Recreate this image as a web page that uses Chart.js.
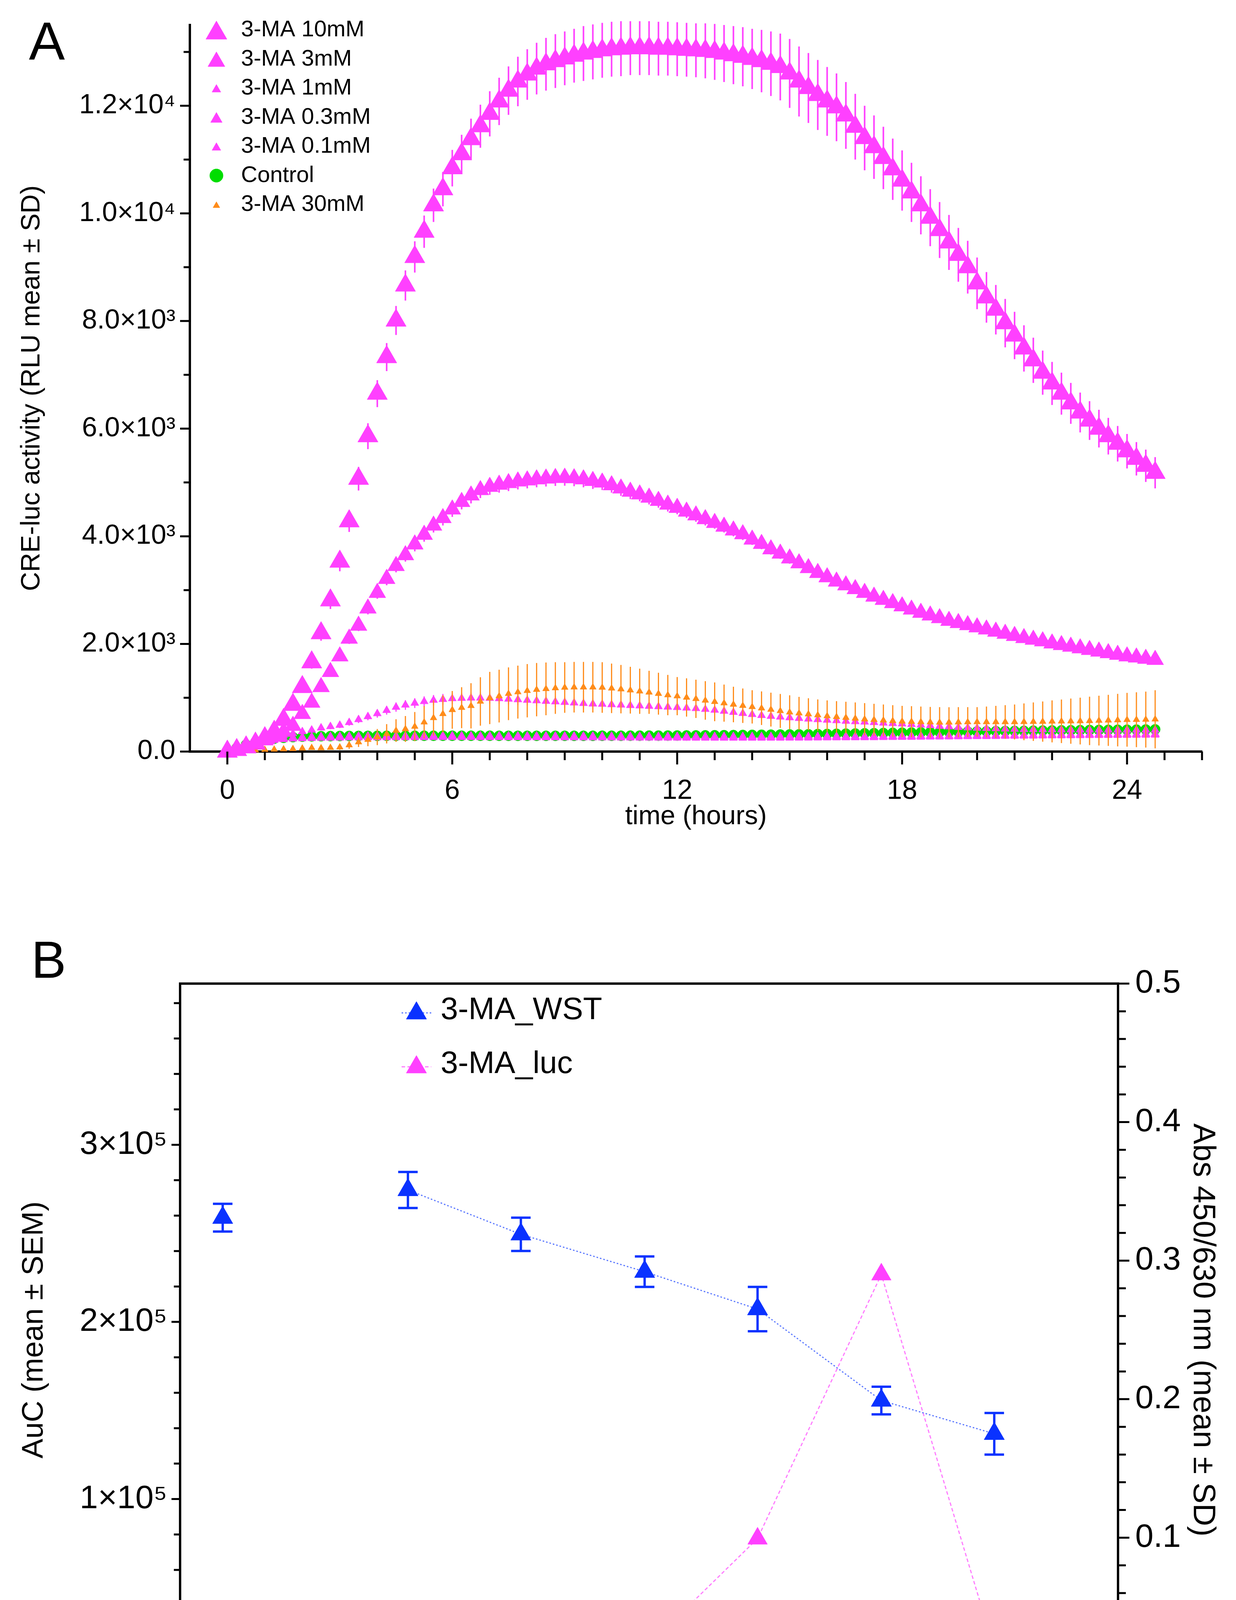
<!DOCTYPE html>
<html>
<head>
<meta charset="utf-8">
<title>3-MA CRE-luc</title>
<script src="https://cdn.jsdelivr.net/npm/chart.js@4.4.1/dist/chart.umd.min.js"></script>
<style>
  body { margin: 0; background: #fff; }
  #wrap { position: relative; width: 3164px; height: 4631px; }
  canvas { position: absolute; left: 0; }
  #chartA { top: 0; }
  #chartB { top: 2250px; }
</style>
</head>
<body>
<div id="wrap">
  <canvas id="chartA" width="3164" height="2200"></canvas>
  <canvas id="chartB" width="3164" height="2381"></canvas>
</div>
<script>
const FONT = "'Liberation Sans', Arial, sans-serif";
const PINK = "#ff40ff";
const GREEN = "#00dd00";
const ORANGE = "#ff8c1a";
const BLUE = "#0a32ff";

// ---- panel A: kinetics, one reading every 15 min ----
const timeH = [
  0, 0.25, 0.5, 0.75, 1, 1.25, 1.5, 1.75, 2, 2.25,
  2.5, 2.75, 3, 3.25, 3.5, 3.75, 4, 4.25, 4.5, 4.75,
  5, 5.25, 5.5, 5.75, 6, 6.25, 6.5, 6.75, 7, 7.25,
  7.5, 7.75, 8, 8.25, 8.5, 8.75, 9, 9.25, 9.5, 9.75,
  10, 10.25, 10.5, 10.75, 11, 11.25, 11.5, 11.75, 12, 12.25,
  12.5, 12.75, 13, 13.25, 13.5, 13.75, 14, 14.25, 14.5, 14.75,
  15, 15.25, 15.5, 15.75, 16, 16.25, 16.5, 16.75, 17, 17.25,
  17.5, 17.75, 18, 18.25, 18.5, 18.75, 19, 19.25, 19.5, 19.75,
  20, 20.25, 20.5, 20.75, 21, 21.25, 21.5, 21.75, 22, 22.25,
  22.5, 22.75, 23, 23.25, 23.5, 23.75, 24, 24.25, 24.5, 24.75
];

const ma10 = [
  0, 30, 80, 150, 250, 370, 590, 870, 1200, 1660,
  2200, 2810, 3530, 4280, 5070, 5860, 6650, 7330, 8010, 8660,
  9190, 9660, 10150, 10450, 10840, 11100, 11380, 11620, 11850, 12080,
  12280, 12450, 12580, 12690, 12770, 12830, 12880, 12930, 12970, 13000,
  13030, 13050, 13060, 13070, 13070, 13070, 13060, 13060, 13050, 13040,
  13030, 13020, 13000, 12970, 12940, 12910, 12870, 12830, 12780, 12720,
  12600, 12450, 12330, 12200, 12080, 11970, 11820, 11610, 11400, 11230,
  11030, 10820, 10610, 10390, 10150, 9920, 9690, 9460, 9230, 9000,
  8700, 8440, 8210, 7960, 7730, 7490, 7270, 7040, 6840, 6650,
  6470, 6300, 6150, 6000, 5860, 5720, 5580, 5440, 5310, 5180
];
const sd10 = [
  0, 20, 30, 40, 50, 60, 70, 80, 100, 120,
  140, 160, 180, 200, 220, 240, 250, 260, 270, 280,
  290, 300, 310, 320, 340, 360, 380, 400, 420, 440,
  450, 460, 470, 480, 490, 500, 500, 500, 510, 510,
  510, 510, 510, 500, 500, 500, 500, 500, 500, 500,
  500, 510, 520, 530, 540, 550, 560, 580, 600, 620,
  640, 650, 650, 650, 640, 630, 620, 610, 600, 590,
  580, 570, 560, 550, 540, 530, 520, 510, 500, 490,
  480, 470, 460, 450, 440, 430, 420, 410, 400, 390,
  380, 370, 360, 350, 340, 330, 320, 310, 300, 290
];

const ma3 = [
  0, 40, 90, 150, 210, 280, 370, 480, 700, 910,
  1200, 1480, 1770, 2100, 2340, 2660, 2950, 3210, 3450, 3650,
  3850, 4030, 4200, 4340, 4500, 4640, 4760, 4860, 4920, 4960,
  4990, 5020, 5040, 5060, 5075, 5085, 5090, 5080, 5060, 5030,
  5000, 4950, 4890, 4830, 4780, 4720, 4660, 4590, 4530, 4460,
  4390, 4320, 4250, 4180, 4110, 4040, 3940, 3860, 3760, 3680,
  3590, 3500, 3410, 3320, 3240, 3160, 3090, 3020, 2950, 2880,
  2820, 2760, 2700, 2640, 2580, 2530, 2480, 2430, 2390, 2350,
  2310, 2270, 2230, 2190, 2150, 2110, 2080, 2050, 2010, 1980,
  1950, 1920, 1890, 1860, 1830, 1800, 1770, 1750, 1725, 1705
];
const sd3 = [
  0, 10, 15, 20, 25, 30, 35, 40, 50, 60,
  70, 80, 90, 100, 100, 110, 110, 120, 120, 120,
  130, 130, 130, 140, 140, 140, 150, 150, 150, 150,
  150, 150, 150, 150, 150, 150, 150, 150, 150, 150,
  140, 140, 140, 140, 130, 130, 130, 130, 120, 120,
  120, 120, 110, 110, 110, 110, 100, 100, 100, 100,
  100, 90, 90, 90, 90, 90, 80, 80, 80, 80,
  80, 80, 70, 70, 70, 70, 70, 70, 60, 60,
  60, 60, 60, 60, 60, 60, 60, 50, 50, 50,
  50, 50, 50, 50, 50, 50, 50, 50, 50, 50
];

const ma1 = [
  0, 60, 120, 180, 230, 270, 300, 335, 370, 400,
  440, 465, 490, 540, 595, 650, 705, 765, 825, 865,
  900, 930, 955, 970, 985, 990, 995, 995, 990, 985,
  975, 965, 955, 945, 935, 925, 915, 905, 895, 885,
  880, 872, 865, 857, 850, 842, 835, 827, 820, 810,
  800, 785, 770, 750, 730, 710, 690, 672, 655, 642,
  630, 617, 605, 595, 585, 575, 565, 557, 550, 540,
  530, 522, 515, 505, 495, 483, 470, 460, 450, 442,
  435, 430, 425, 420, 415, 412, 410, 408, 406, 405,
  404, 403, 402, 402, 401, 401, 400, 400, 400, 400
];
const sd1 = [
  0, 10, 15, 20, 25, 30, 30, 35, 40, 40,
  45, 50, 55, 60, 65, 70, 75, 80, 85, 90,
  90, 95, 95, 100, 100, 100, 100, 100, 100, 100,
  100, 100, 100, 100, 100, 100, 100, 100, 100, 100,
  100, 100, 95, 95, 95, 95, 90, 90, 90, 90,
  90, 90, 90, 85, 85, 85, 85, 80, 80, 80,
  80, 80, 80, 80, 80, 75, 75, 75, 75, 75,
  75, 75, 75, 70, 70, 70, 70, 70, 70, 70,
  70, 70, 70, 70, 70, 70, 70, 70, 70, 70,
  70, 70, 70, 70, 70, 70, 70, 70, 70, 70
];

const ma03 = [
  0, 60, 120, 170, 205, 230, 248, 258, 265, 270,
  274, 277, 279, 281, 282, 283, 284, 285, 286, 286,
  287, 287, 288, 288, 288, 288, 287, 287, 287, 286,
  286, 285, 285, 284, 284, 283, 283, 282, 282, 281,
  281, 280, 280, 279, 279, 278, 278, 277, 277, 276,
  276, 275, 275, 275, 274, 274, 274, 274, 274, 274,
  274, 274, 275, 275, 276, 276, 277, 278, 279, 280,
  281, 282, 283, 284, 286, 287, 289, 290, 292, 294,
  296, 297, 299, 301, 303, 305, 307, 308, 310, 312,
  313, 315, 316, 318, 319, 320, 321, 322, 323, 324
];

const ma01 = [
  0, 55, 105, 150, 185, 208, 224, 234, 240, 245,
  248, 251, 253, 255, 256, 257, 258, 259, 260, 260,
  261, 261, 262, 262, 262, 262, 262, 261, 261, 261,
  260, 260, 259, 259, 258, 258, 257, 257, 256, 256,
  255, 255, 254, 254, 253, 253, 252, 252, 252, 251,
  251, 251, 250, 250, 250, 250, 250, 250, 251, 251,
  252, 252, 253, 254, 255, 256, 257, 258, 259, 260,
  262, 263, 265, 266, 268, 270, 271, 273, 275, 277,
  279, 280, 282, 284, 286, 288, 289, 291, 293, 294,
  296, 297, 299, 300, 301, 302, 303, 304, 305, 306
];

const ctrlA = [
  0, 70, 130, 180, 215, 240, 256, 268, 277, 282,
  285, 287, 289, 290, 291, 292, 292, 293, 293, 293,
  293, 294, 294, 294, 294, 294, 294, 294, 294, 293,
  293, 293, 293, 293, 293, 293, 293, 293, 293, 293,
  294, 294, 294, 295, 295, 296, 296, 297, 298, 299,
  300, 301, 303, 304, 306, 308, 310, 312, 314, 316,
  318, 320, 322, 325, 327, 330, 333, 336, 339, 342,
  345, 348, 351, 354, 357, 360, 363, 366, 369, 371,
  374, 376, 379, 381, 383, 385, 388, 390, 392, 394,
  396, 398, 400, 401, 403, 405, 406, 408, 410, 412
];

const ma30 = [
  0, 8, 15, 25, 35, 40, 45, 50, 60, 70,
  65, 72, 80, 120, 175, 220, 270, 330, 390, 420,
  465, 545, 625, 700, 775, 815, 850, 930, 995, 1030,
  1075, 1105, 1130, 1150, 1165, 1180, 1190, 1195, 1195, 1195,
  1190, 1175, 1160, 1140, 1120, 1100, 1075, 1050, 1030, 1005,
  980, 950, 925, 900, 875, 852, 830, 805, 780, 755,
  730, 712, 695, 677, 660, 645, 630, 615, 600, 590,
  580, 570, 560, 555, 550, 545, 540, 542, 545, 548,
  550, 550, 550, 550, 550, 552, 555, 557, 560, 562,
  565, 567, 570, 575, 580, 585, 590, 592, 595, 600
];
const sd30 = [
  0, 5, 8, 10, 12, 15, 18, 20, 22, 25,
  30, 35, 50, 70, 90, 120, 150, 180, 210, 240,
  270, 300, 330, 345, 350, 380, 420, 450, 485, 490,
  490, 492, 495, 495, 490, 480, 470, 470, 470, 470,
  470, 460, 450, 435, 420, 400, 390, 375, 355, 355,
  355, 358, 360, 345, 330, 320, 310, 312, 315, 315,
  315, 305, 295, 292, 290, 292, 295, 298, 300, 297,
  295, 292, 290, 288, 286, 285, 285, 282, 280, 278,
  275, 287, 300, 312, 325, 342, 358, 374, 390, 405,
  420, 435, 450, 463, 475, 488, 500, 510, 520, 540
];

const yTicksA = [0, 2000, 4000, 6000, 8000, 10000, 12000];
const yLabelsA = ["0.0", "2.0×10³", "4.0×10³", "6.0×10³", "8.0×10³", "1.0×10⁴", "1.2×10⁴"];
const yMinorA = [1000, 3000, 5000, 7000, 9000, 11000, 13000];
const xTicksA = [0, 6, 12, 18, 24];
const xMinorA = [1, 2, 3, 4, 5, 7, 8, 9, 10, 11, 13, 14, 15, 16, 17, 19, 20, 21, 22, 23, 25, 26];

// ---- panel B: concentration response ----
const concB = [0.0001, 0.0003, 0.001, 0.003, 0.01, 0.03];
const wstMean = [0.351, 0.319, 0.292, 0.265, 0.199, 0.175];
const wstSd = [0.013, 0.012, 0.011, 0.016, 0.010, 0.015];
const lucMean = [5300, 5500, 15300, 77700, 226800, 15300];
const controlX = 1.65e-5; // where the Control group sits on the broken axis
const ctrlWst = [0.331];
const ctrlWstSd = [0.010];
const ctrlLuc = [6300];

const xTicksB = [controlX, 0.001, 0.01, 0.1];
const xLabelsB = ["Control", "0.001", "0.01", "0.1"];
const xMinorB = [0.0002, 0.0003, 0.0004, 0.0005, 0.0006, 0.0007, 0.0008, 0.0009,
  0.002, 0.003, 0.004, 0.005, 0.006, 0.007, 0.008, 0.009,
  0.02, 0.03, 0.04, 0.05, 0.06, 0.07, 0.08, 0.09];
const yTicksB = [0, 100000, 200000, 300000];
const yLabelsB = ["0", "1×10⁵", "2×10⁵", "3×10⁵"];
const yMinorB = [20000, 40000, 60000, 80000, 120000, 140000, 160000, 180000,
  220000, 240000, 260000, 280000, 320000, 340000, 360000, 380000];
const y2TicksB = [0, 0.1, 0.2, 0.3, 0.4, 0.5];
const y2LabelsB = ["0.0", "0.1", "0.2", "0.3", "0.4", "0.5"];
const y2MinorB = [0.02, 0.04, 0.06, 0.08, 0.12, 0.14, 0.16, 0.18, 0.22, 0.24, 0.26, 0.28,
  0.32, 0.34, 0.36, 0.38, 0.42, 0.44, 0.46, 0.48];

function pts(xs, ys) {
  return xs.map((x, i) => ({ x: x, y: ys[i] }));
}

// vertical error bars, drawn just before the markers of their dataset
const errorBars = {
  id: "errorBars",
  beforeDatasetDraw(chart, args) {
    const ds = chart.data.datasets[args.index];
    if (!ds.sd) return;
    const meta = args.meta;
    const ys = chart.scales[meta.yAxisID];
    const ctx = chart.ctx;
    ctx.save();
    ctx.strokeStyle = ds.errColor;
    ctx.lineWidth = ds.errWidth;
    ctx.beginPath();
    meta.data.forEach((el, i) => {
      const s = ds.sd[i];
      if (!s) return;
      const v = ds.data[i].y;
      const top = ys.getPixelForValue(v + s);
      const bot = ys.getPixelForValue(v - s);
      ctx.moveTo(el.x, top);
      ctx.lineTo(el.x, bot);
      if (ds.cap) {
        ctx.moveTo(el.x - ds.cap, top);
        ctx.lineTo(el.x + ds.cap, top);
        ctx.moveTo(el.x - ds.cap, bot);
        ctx.lineTo(el.x + ds.cap, bot);
      }
    });
    ctx.stroke();
    ctx.restore();
  }
};
Chart.register(errorBars);

function tickMarks(ctx, scale, values, len, side) {
  ctx.beginPath();
  values.forEach(v => {
    const p = scale.getPixelForValue(v);
    if (side === "left") {
      ctx.moveTo(scale.right, p);
      ctx.lineTo(scale.right - len, p);
    } else if (side === "right") {
      ctx.moveTo(scale.left, p);
      ctx.lineTo(scale.left + len, p);
    } else {
      ctx.moveTo(p, scale.top);
      ctx.lineTo(p, scale.top + len);
    }
  });
  ctx.stroke();
}

function marker(ctx, style, r, color, x, y) {
  ctx.fillStyle = color;
  ctx.strokeStyle = color;
  ctx.lineWidth = 1;
  Chart.helpers.drawPoint(ctx, { pointStyle: style, radius: r, rotation: 0, borderWidth: 1 }, x, y);
}

function noPad(s) {
  s.paddingTop = 0;
  s.paddingBottom = 0;
  s.paddingLeft = 0;
  s.paddingRight = 0;
}

// ---------------- chart A ----------------
const setsA = [
  { label: "3-MA 10mM", data: pts(timeH, ma10), sd: sd10, color: PINK, style: "triangle", r: 30, legendR: 31, order: 0, errWidth: 4 },
  { label: "3-MA 3mM", data: pts(timeH, ma3), sd: sd3, color: PINK, style: "triangle", r: 25, legendR: 25, order: 1, errWidth: 4 },
  { label: "3-MA 1mM", data: pts(timeH, ma1), sd: sd1, color: PINK, style: "triangle", r: 12, legendR: 13, order: 3, errWidth: 3 },
  { label: "3-MA 0.3mM", data: pts(timeH, ma03), color: PINK, style: "triangle", r: 13, legendR: 17, order: 4 },
  { label: "3-MA 0.1mM", data: pts(timeH, ma01), color: PINK, style: "triangle", r: 12, legendR: 13, order: 5 },
  { label: "Control", data: pts(timeH, ctrlA), color: GREEN, style: "circle", r: 13, legendR: 17, order: 6 },
  { label: "3-MA 30mM", data: pts(timeH, ma30), sd: sd30, color: ORANGE, style: "triangle", r: 10, legendR: 10, order: 2, errWidth: 3 }
].map(d => Object.assign(d, {
  showLine: false,
  pointStyle: d.style,
  pointRadius: d.r,
  pointBackgroundColor: d.color,
  pointBorderColor: d.color,
  pointBorderWidth: 1,
  errColor: d.color,
  clip: false
}));

const decorA = {
  id: "decorA",
  afterDraw(chart) {
    const ctx = chart.ctx;
    const x = chart.scales.x, y = chart.scales.y;
    ctx.save();
    ctx.strokeStyle = "#000";
    ctx.lineWidth = 5;
    tickMarks(ctx, y, yTicksA, 25, "left");
    tickMarks(ctx, y, yMinorA, 16, "left");
    tickMarks(ctx, x, xTicksA, 33, "bottom");
    tickMarks(ctx, x, xMinorA, 22, "bottom");

    // legend, markers sized like the series
    chart.data.datasets.forEach((ds, i) => {
      const cy = 77 + i * 74.5;
      const off = ds.style === "triangle" ? ds.legendR / 4 : 0;
      marker(ctx, ds.style, ds.legendR, ds.color, 554, cy + off);
      ctx.fillStyle = "#000";
      ctx.font = "58px " + FONT;
      ctx.textBaseline = "middle";
      ctx.textAlign = "left";
      ctx.fillText(ds.label, 617, cy);
    });

    ctx.fillStyle = "#000";
    ctx.font = "138px " + FONT;
    ctx.textBaseline = "alphabetic";
    ctx.fillText("A", 74, 153);
    ctx.restore();
  }
};

new Chart(document.getElementById("chartA"), {
  type: "scatter",
  data: { datasets: setsA },
  options: {
    responsive: false,
    animation: false,
    devicePixelRatio: 1,
    layout: { padding: { left: 0, right: 87, top: 64, bottom: 0 } },
    plugins: { legend: { display: false }, tooltip: { enabled: false } },
    scales: {
      x: {
        type: "linear",
        min: -1,
        max: 26,
        afterBuildTicks: s => { s.ticks = xTicksA.map(v => ({ value: v })); },
        afterFit: s => { s.height = 276; noPad(s); },
        grid: { display: false, drawTicks: true, tickLength: 33 },
        border: { display: true, color: "#000", width: 6 },
        ticks: { autoSkip: false, maxRotation: 0, padding: 27, color: "#000", font: { family: FONT, size: 70 } },
        title: { display: true, text: "time (hours)", color: "#000", font: { family: FONT, size: 68 }, padding: { top: 0, bottom: 68 } }
      },
      y: {
        type: "linear",
        min: 0,
        max: 13500,
        afterBuildTicks: s => { s.ticks = yTicksA.map(v => ({ value: v })); },
        afterFit: s => { s.width = 486; noPad(s); },
        grid: { display: false, drawTicks: true, tickLength: 25 },
        border: { display: true, color: "#000", width: 6 },
        ticks: { autoSkip: false, padding: 12, color: "#000", font: { family: FONT, size: 70 }, callback: (v, i) => yLabelsA[i] },
        title: { display: true, text: "CRE-luc activity (RLU mean ± SD)", color: "#000", font: { family: FONT, size: 68 }, padding: { top: 41, bottom: 0 } }
      }
    }
  },
  plugins: [decorA]
});

// ---------------- chart B ----------------
const setsB = [
  {
    label: "3-MA_WST", data: pts(concB, wstMean), yAxisID: "y2", sd: wstSd, cap: 25,
    errColor: BLUE, errWidth: 6, showLine: true, borderColor: "#5b78ff", borderWidth: 3,
    borderDash: [4, 5], pointStyle: "triangle", pointRadius: 30,
    pointBackgroundColor: BLUE, pointBorderColor: BLUE, pointBorderWidth: 1, clip: false
  },
  {
    label: "WST control", data: pts([controlX], ctrlWst), yAxisID: "y2", sd: ctrlWstSd, cap: 25,
    errColor: BLUE, errWidth: 6, showLine: false, pointStyle: "triangle", pointRadius: 30,
    pointBackgroundColor: BLUE, pointBorderColor: BLUE, pointBorderWidth: 1, clip: false
  },
  {
    label: "3-MA_luc", data: pts(concB, lucMean), yAxisID: "y",
    showLine: true, borderColor: "#ff7cff", borderWidth: 3, borderDash: [9, 6],
    pointStyle: "triangle", pointRadius: 29,
    pointBackgroundColor: PINK, pointBorderColor: PINK, pointBorderWidth: 1, clip: false
  },
  {
    label: "luc control", data: pts([controlX], ctrlLuc), yAxisID: "y",
    showLine: false, pointStyle: "circle", pointRadius: 27,
    pointBackgroundColor: PINK, pointBorderColor: PINK, pointBorderWidth: 1, clip: false
  }
];

const decorB = {
  id: "decorB",
  afterDraw(chart) {
    const ctx = chart.ctx;
    const a = chart.chartArea;
    const x = chart.scales.x, y = chart.scales.y, y2 = chart.scales.y2;
    ctx.save();
    ctx.strokeStyle = "#000";
    ctx.lineWidth = 6;
    ctx.beginPath();
    // frame top
    ctx.moveTo(a.left - 3, a.top);
    ctx.lineTo(a.right + 3, a.top);
    // broken x axis: control segment, gap, log segment
    ctx.moveTo(a.left, a.bottom);
    ctx.lineTo(a.left + 205, a.bottom);
    ctx.moveTo(a.left + 259, a.bottom);
    ctx.lineTo(a.right, a.bottom);
    ctx.stroke();
    ctx.lineWidth = 5;
    ctx.beginPath();
    ctx.moveTo(a.left + 205, a.bottom - 14);
    ctx.lineTo(a.left + 205, a.bottom + 14);
    ctx.moveTo(a.left + 259, a.bottom - 16);
    ctx.lineTo(a.left + 259, a.bottom + 16);
    ctx.stroke();

    tickMarks(ctx, y, yTicksB, 22, "left");
    tickMarks(ctx, y, yMinorB, 16, "left");
    tickMarks(ctx, y2, y2TicksB, 29, "right");
    tickMarks(ctx, y2, y2MinorB, 20, "right");
    tickMarks(ctx, x, xTicksB, 35, "bottom");
    tickMarks(ctx, x, xMinorB, 24, "bottom");

    // legend
    const rows = [
      { text: "3-MA_WST", color: BLUE, line: "#5b78ff", dash: [4, 5], cy: 337 },
      { text: "3-MA_luc", color: PINK, line: "#ff7cff", dash: [9, 6], cy: 475 }
    ];
    rows.forEach(r => {
      ctx.strokeStyle = r.line;
      ctx.lineWidth = 3;
      ctx.setLineDash(r.dash);
      ctx.beginPath();
      ctx.moveTo(1028, r.cy + 6);
      ctx.lineTo(1104, r.cy + 6);
      ctx.stroke();
      ctx.setLineDash([]);
      marker(ctx, "triangle", 30, r.color, 1066, r.cy + 7);
      ctx.fillStyle = "#000";
      ctx.font = "80px " + FONT;
      ctx.textBaseline = "middle";
      ctx.textAlign = "left";
      ctx.fillText(r.text, 1128, r.cy);
    });

    ctx.fillStyle = "#000";
    ctx.font = "134px " + FONT;
    ctx.textBaseline = "alphabetic";
    ctx.fillText("B", 80, 253);
    ctx.restore();
  }
};

new Chart(document.getElementById("chartB"), {
  type: "scatter",
  data: { datasets: setsB },
  options: {
    responsive: false,
    animation: false,
    devicePixelRatio: 1,
    layout: { padding: { left: 0, right: 0, top: 268, bottom: 0 } },
    plugins: { legend: { display: false }, tooltip: { enabled: false } },
    elements: { line: { tension: 0 } },
    scales: {
      x: {
        type: "logarithmic",
        min: 1.09e-5,
        max: 0.1,
        afterBuildTicks: s => { s.ticks = xTicksB.map(v => ({ value: v })); },
        afterFit: s => { s.height = 340; noPad(s); },
        grid: { display: false, drawTicks: true, tickLength: 35 },
        border: { display: false },
        ticks: { autoSkip: false, maxRotation: 0, padding: 40, color: "#000", font: { family: FONT, size: 84 }, callback: (v, i) => xLabelsB[i] },
        title: { display: true, text: "Log C (M)", color: "#000", font: { family: FONT, size: 78 }, padding: { top: 0, bottom: 38 } }
      },
      y: {
        type: "linear",
        position: "left",
        min: 0,
        max: 391000,
        afterBuildTicks: s => { s.ticks = yTicksB.map(v => ({ value: v })); },
        afterFit: s => { s.width = 461; noPad(s); },
        grid: { display: false, drawTicks: true, tickLength: 22 },
        border: { display: true, color: "#000", width: 6 },
        ticks: { autoSkip: false, padding: 11, color: "#000", font: { family: FONT, size: 84 }, callback: (v, i) => yLabelsB[i] },
        title: { display: true, text: "AuC (mean ± SEM)", color: "#000", font: { family: FONT, size: 76 }, padding: { top: 42, bottom: 0 } }
      },
      y2: {
        type: "linear",
        position: "right",
        min: 0,
        max: 0.5,
        afterBuildTicks: s => { s.ticks = y2TicksB.map(v => ({ value: v })); },
        afterFit: s => { s.width = 302; noPad(s); },
        grid: { display: false, drawTicks: true, tickLength: 29 },
        border: { display: true, color: "#000", width: 6 },
        ticks: { autoSkip: false, padding: 15, color: "#000", font: { family: FONT, size: 84 }, callback: (v, i) => y2LabelsB[i] },
        title: { display: true, text: "Abs 450/630 nm (mean ± SD)", color: "#000", font: { family: FONT, size: 80 }, padding: { top: 38, bottom: 0 } }
      }
    }
  },
  plugins: [decorB]
});
</script>
</body>
</html>
